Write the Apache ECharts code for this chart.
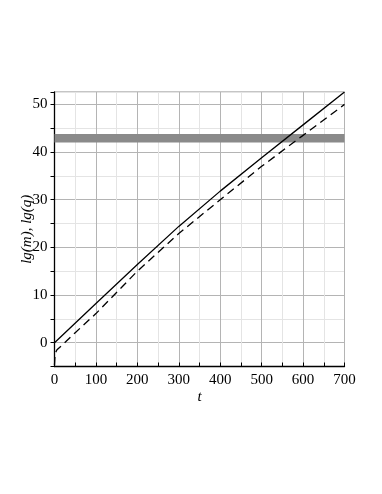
<!DOCTYPE html>
<html>
<head>
<meta charset="utf-8">
<script src="https://cdn.jsdelivr.net/npm/echarts@6/dist/echarts.min.js"></script>
<style>
  html, body { margin: 0; padding: 0; background: #fff; }
  #chart { width: 382px; height: 494px; }
</style>
</head>
<body>
<div id="chart"></div>
<script>
// values
const tM = [0, 100, 200, 300, 400, 500, 600, 700];
const lgM = [0, 8.2, 16.4, 24.4, 31.8, 38.8, 45.7, 52.6];

const tQ = [0, 1, 3, 6, 10, 20, 50, 100, 200, 300, 400, 500, 600, 700];
const lgQ = [-4.7, -3.0, -2.0, -1.5, -1.1, -0.4, 2.1, 6.1, 15.0, 22.9, 30.0, 37.0, 43.5, 50.0];

const bandT = [0, 700];
const bandLevel = 42.9;

const xTicks = [0, 100, 200, 300, 400, 500, 600, 700];
const yTicks = [0, 10, 20, 30, 40, 50];

const font = "'Liberation Serif', 'DejaVu Serif', serif";
const major = "#b4b4b4";
const minor = "#e4e4e4";

const chart = echarts.init(document.getElementById("chart"));

const option = {
  animation: false,
  backgroundColor: "#fff",
  grid: {
    left: 54.5,
    right: 37.5,
    top: 92,
    bottom: 127.5,
    show: true,
    borderColor: "#8a8a8a",
    borderWidth: 1
  },
  xAxis: {
    type: "value",
    min: 0,
    max: 700,
    interval: 50,
    name: "t",
    nameLocation: "middle",
    nameGap: 23,
    nameMoveOverlap: false,
    nameTextStyle: { fontFamily: font, fontStyle: "italic", fontSize: 15, color: "#000" },
    axisLine: { onZero: false, lineStyle: { color: "#000", width: 1.3 } },
    axisTick: { inside: true, length: 4, lineStyle: { color: "#000" } },
    axisLabel: {
      margin: 6,
      fontFamily: font,
      fontSize: 15,
      color: "#000",
      formatter: v => (xTicks.includes(v) ? String(v) : "")
    },
    splitLine: { show: true, lineStyle: { color: [major, minor], width: 1 } }
  },
  yAxis: {
    type: "value",
    min: -5,
    max: 52.6,
    interval: 5,
    name: "lg(m), lg(q)",
    nameLocation: "middle",
    nameGap: 20,
    nameMoveOverlap: false,
    nameTextStyle: { fontFamily: font, fontStyle: "italic", fontSize: 15, color: "#000" },
    axisLine: { onZero: false, lineStyle: { color: "#000", width: 1.3 } },
    axisTick: { inside: false, length: 4, lineStyle: { color: "#000" } },
    axisLabel: {
      margin: 7,
      fontFamily: font,
      fontSize: 15,
      color: "#000",
      formatter: v => (yTicks.includes(v) ? String(v) : "")
    },
    splitLine: { show: true, lineStyle: { color: [minor, major], width: 1 } }
  },
  series: [
    {
      name: "band",
      type: "line",
      data: bandT.map(t => [t, bandLevel]),
      symbol: "none",
      lineStyle: { color: "#8a8a8a", width: 8.5 },
      z: 1
    },
    {
      name: "lg(m)",
      type: "line",
      data: tM.map((t, i) => [t, lgM[i]]),
      symbol: "none",
      lineStyle: { color: "#000", width: 1.3 },
      z: 3
    },
    {
      name: "lg(q)",
      type: "line",
      data: tQ.map((t, i) => [t, lgQ[i]]),
      symbol: "none",
      lineStyle: { color: "#000", width: 1.3, type: [8, 5] },
      z: 3
    }
  ]
};

chart.setOption(option);
</script>
</body>
</html>
